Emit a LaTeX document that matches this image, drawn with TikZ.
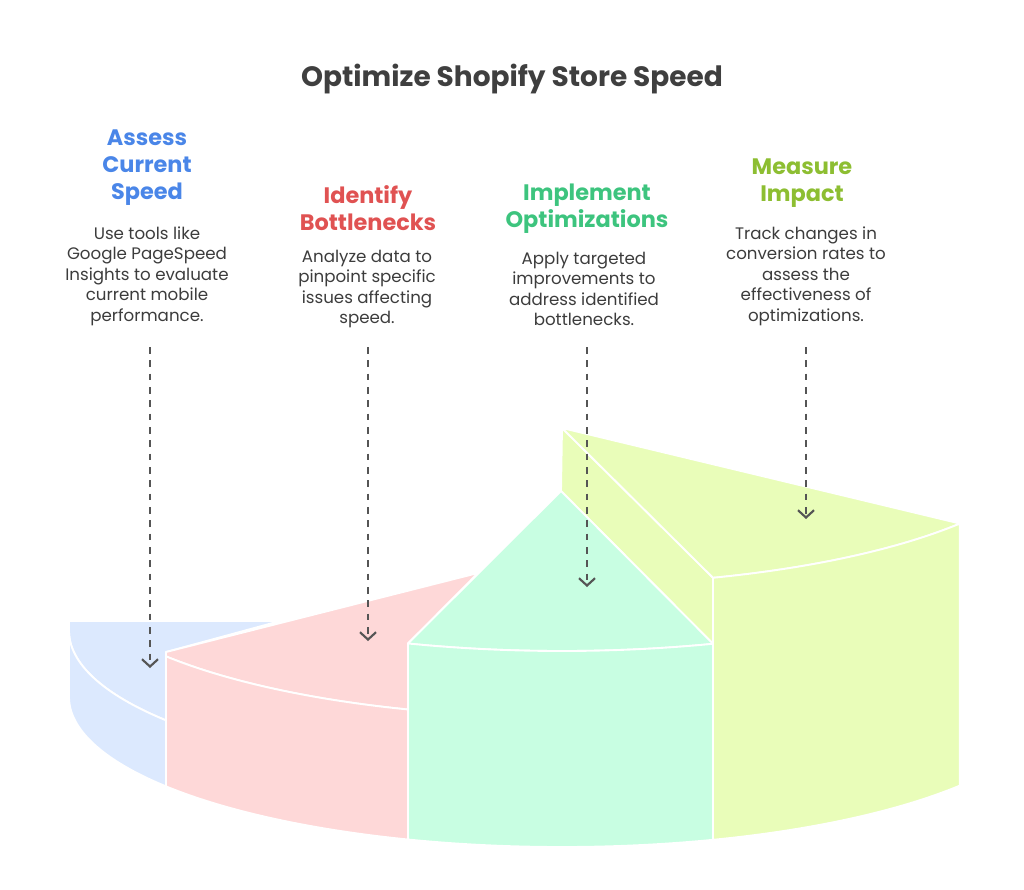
\documentclass[tikz,border=0pt]{standalone}
\usepackage{fontspec}
\setmainfont{Poppins}
\usetikzlibrary{arrows.meta}

\definecolor{bluefill}{HTML}{DCE9FE}
\definecolor{redfill}{HTML}{FED8D8}
\definecolor{greenfill}{HTML}{C8FEE2}
\definecolor{limefill}{HTML}{E9FDB9}
\definecolor{bluetext}{HTML}{4A86E8}
\definecolor{redtext}{HTML}{E05252}
\definecolor{greentext}{HTML}{3DC47E}
\definecolor{limetext}{HTML}{8DBE32}
\definecolor{titlegray}{HTML}{3F3F3F}
\definecolor{textgray}{HTML}{3C3C3C}
\definecolor{arrowgray}{HTML}{555555}

\begin{document}
\begin{tikzpicture}[
    x=0.75pt, y=-0.75pt,
    >={Straight Barb[length=5.5pt,width=12pt]},
    face/.style={draw=white, line width=1.4pt, line join=round},
    rim/.style={x radius=493, y radius=150},
    title/.style={font=\bfseries\fontsize{21}{25}\selectfont, text=titlegray},
    head/.style={font=\bfseries\fontsize{16.8}{20.25}\selectfont, align=center},
    desc/.style={font=\fontsize{12.5}{15.4}\selectfont, text=textgray, align=center},
    pointer/.style={->, draw=arrowgray, line width=1.6pt, dash pattern=on 5pt off 5pt}
]
\useasboundingbox (0,0) rectangle (1024,889);

% Mittelpunkte und Randpunkte der Ellipsen
\foreach \c/\y in {b/697, l/631, r/567, g/501, m/435}{
    \coordinate (c\c) at (562,\y);
    \foreach \i/\t in {0/180, 1/143.44, 2/108.2, 3/72.16, 4/36.18}
        \path (c\c) ++(\t:493 and 150) coordinate (\c\i);
}

% Hinteres Segment (hinten)
\filldraw[face, fill=limefill] (562,428) -- (m3) -- (g3) -- (561,491) -- cycle;
\filldraw[face, fill=limefill] (562,428) -- (m4) arc[rim, start angle=36.18, end angle=72.16] -- cycle;

% Blaues Segment
\filldraw[face, fill=bluefill] (69,621) -- (280,621) -- (166,652) -- (l1) arc[rim, start angle=143.44, end angle=180] -- cycle;
\filldraw[face, fill=bluefill] (l0) arc[rim, start angle=180, end angle=143.44] -- (b1) arc[rim, start angle=143.44, end angle=180] -- cycle;

% Rotes Segment
\filldraw[face, fill=redfill] (166,652) -- (478,573) -- (g2) -- (r2) arc[rim, start angle=108.2, end angle=143.44] -- cycle;
\filldraw[face, fill=redfill] (r1) arc[rim, start angle=143.44, end angle=108.2] -- (b2) arc[rim, start angle=108.2, end angle=143.44] -- cycle;

% Gruenes Segment
\filldraw[face, fill=greenfill] (561,491) -- (g3) arc[rim, start angle=72.16, end angle=108.2] -- cycle;
\filldraw[face, fill=greenfill] (g2) arc[rim, start angle=108.2, end angle=72.16] -- (b3) arc[rim, start angle=72.16, end angle=108.2] -- cycle;

% Hinteres Segment (vorne)
\filldraw[face, fill=limefill] (m3) arc[rim, start angle=72.16, end angle=36.18] -- (b4) arc[rim, start angle=36.18, end angle=72.16] -- cycle;

% Titel und Texte
\node[title] (title) at (512,79) {Optimize Shopify Store Speed};

\node[head, text=bluetext] (headA) at (147,168) {Assess\\Current\\Speed};
\node[head, text=redtext] (headB) at (368,208) {Identify\\Bottlenecks};
\node[head, text=greentext] (headC) at (587,209) {Implement\\Optimizations};
\node[head, text=limetext] (headD) at (802,183) {Measure\\Impact};

\node[desc] (descA) at (147,276) {Use tools like\\Google PageSpeed\\Insights to evaluate\\current mobile\\performance.};
\node[desc] (descB) at (367,289) {Analyze data to\\pinpoint specific\\issues affecting\\speed.};
\node[desc] (descC) at (584,289) {Apply targeted\\improvements to\\address identified\\bottlenecks.};
\node[desc] (descD) at (806,276) {Track changes in\\conversion rates to\\assess the\\effectiveness of\\optimizations.};

% Pfeile
\foreach \n/\x/\y in {A/150/668, B/368/641, C/587/587, D/806/519}{
    \coordinate (start\n) at (\x,347);
    \coordinate (tip\n) at (\x,\y);
    \draw[pointer] (start\n) -- (tip\n);
}
\end{tikzpicture}
\end{document}
